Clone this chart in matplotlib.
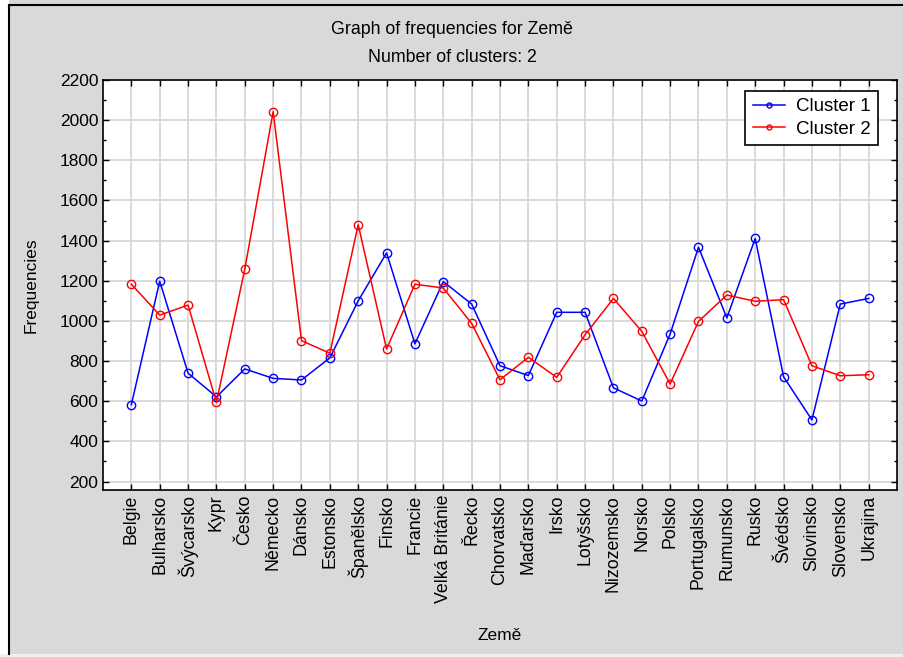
import matplotlib.pyplot as plt
import numpy as np
from matplotlib.patches import Rectangle
from matplotlib.ticker import MultipleLocator

plt.rcParams['font.family'] = ['Liberation Sans', 'DejaVu Sans']

countries = ["Belgie", "Bulharsko", "Švýcarsko", "Kypr", "Česko", "Německo", "Dánsko",
             "Estonsko", "Španělsko", "Finsko", "Francie", "Velká Británie", "Řecko",
             "Chorvatsko", "Maďarsko", "Irsko", "Lotyšsko", "Nizozemsko", "Norsko",
             "Polsko", "Portugalsko", "Rumunsko", "Rusko", "Švédsko", "Slovinsko",
             "Slovensko", "Ukrajina"]
cluster1 = [583, 1198, 740, 622, 761, 714, 706, 816, 1100, 1339, 886, 1196, 1084,
            777, 728, 1043, 1043, 667, 601, 935, 1367, 1015, 1411, 722, 507, 1084, 1112]
cluster2 = [1183, 1029, 1079, 594, 1258, 2042, 902, 839, 1479, 860, 1183, 1164, 988,
            707, 819, 719, 931, 1112, 948, 686, 998, 1129, 1098, 1106, 777, 727, 732]

fig = plt.figure(figsize=(9.04, 6.57), dpi=100, facecolor="#d9d9d9")
# white margin strip + black frame like the screenshot
fig.patches.append(Rectangle((0, 0), 9 / 904, 1, transform=fig.transFigure,
                             facecolor="white", edgecolor="none", zorder=0))
fig.patches.append(Rectangle((0, 0), 1, 3 / 657, transform=fig.transFigure,
                             facecolor="#f0f0f0", edgecolor="none", zorder=0))
fig.lines.append(plt.Line2D([8.5 / 904, 8.5 / 904], [3 / 657, 1 - 5 / 657],
                            transform=fig.transFigure, color="black", lw=1.5))
fig.lines.append(plt.Line2D([8.5 / 904, 1], [1 - 5 / 657, 1 - 5 / 657],
                            transform=fig.transFigure, color="black", lw=1.5))

ax = fig.add_axes([103 / 904, 1 - 490 / 657, (897 - 103) / 904, (490 - 80) / 657])
x = np.arange(len(countries))
ax.plot(x, cluster1, color="#0000ff", lw=1.1, marker="o", ms=6, mfc="none", mew=1,
        label="Cluster 1", zorder=3)
ax.plot(x, cluster2, color="#ff0000", lw=1.1, marker="o", ms=6, mfc="none", mew=1,
        label="Cluster 2", zorder=3)

ax.set_xlim(-1, len(countries))
ax.set_ylim(158, 2200)
ax.set_xticks(x)
ax.set_xticklabels(countries, rotation=90, fontsize=12.8)
ax.yaxis.set_major_locator(MultipleLocator(200))
ax.yaxis.set_minor_locator(MultipleLocator(100))
ax.set_yticks(np.arange(200, 2201, 200))
ax.tick_params(axis="y", labelsize=12.5)
ax.tick_params(which="both", direction="in", top=True, right=True)
ax.tick_params(which="major", length=4, width=1)
ax.tick_params(which="minor", length=2, width=1)
ax.grid(True, which="major", color="#d8d8d8", lw=1.3)
ax.set_axisbelow(True)
for s in ax.spines.values():
    s.set_linewidth(1.2)

ax.set_xlabel("Země", fontsize=12.5, labelpad=18)
ax.set_ylabel("Frequencies", fontsize=12.5, labelpad=15)

fig.text(0.5, 1 - 30 / 657, "Graph of frequencies for Země", ha="center", va="center", fontsize=12.8)
fig.text(0.5, 1 - 57 / 657, "Number of clusters: 2", ha="center", va="center", fontsize=12.8)

leg = ax.legend(loc="upper right", bbox_to_anchor=(0.988, 0.997), fontsize=13.5,
                fancybox=False, framealpha=1, edgecolor="black", markerscale=0.6,
                handlelength=1.7, handletextpad=0.6, borderpad=0.4, labelspacing=0.3)
leg.get_frame().set_linewidth(1.2)

fig.savefig("out.png", dpi=100, facecolor=fig.get_facecolor())
